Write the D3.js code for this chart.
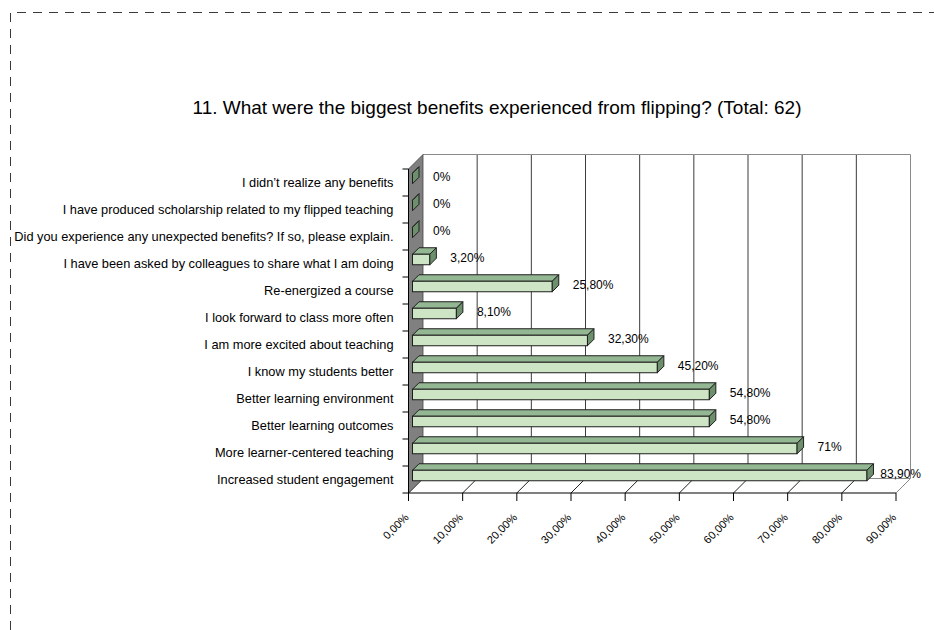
<!DOCTYPE html>
<html>
<head>
<meta charset="utf-8">
<script src="https://cdn.jsdelivr.net/npm/d3@7"></script>
<style>
  html, body { margin: 0; padding: 0; background: #fff; }
  svg { display: block; font-family: "Liberation Sans", Arial, sans-serif; }
</style>
</head>
<body>
<svg id="chart" width="934" height="630"></svg>
<script>
// Survey answers, listed top to bottom as they appear on the category axis
const categories = [
  "I didn\u2019t realize any benefits",
  "I have produced scholarship related to my flipped teaching",
  "Did you experience any unexpected benefits? If so, please explain.",
  "I have been asked by colleagues to share what I am doing",
  "Re-energized a course",
  "I look forward to class more often",
  "I am more excited about teaching",
  "I know my students better",
  "Better learning environment",
  "Better learning outcomes",
  "More learner-centered teaching",
  "Increased student engagement"
];
// Share of respondents (percent)
const values = [0, 0, 0, 3.2, 25.8, 8.1, 32.3, 45.2, 54.8, 54.8, 71, 83.9];
const xTicks = [0, 10, 20, 30, 40, 50, 60, 70, 80, 90];
const titleText = "11. What were the biggest benefits experienced from flipping? (Total: 62)";

(function () {
const svg = d3.select("#chart");
const W = 934, H = 630;

// Plot geometry (front plane) and 3-D depth offset
const x0 = 408.5, x1 = 896, yTop = 169, yBot = 493;
const depth = 14.5;           // full floor depth (dx = depth, dy = -depth)
const barFront = 4, barDepth = 6.5;

const x = d3.scaleLinear().domain([0, 90]).range([x0, x1]);
const y = d3.scaleBand().domain(categories).range([yTop, yBot]).padding(0);
const barH = 10.5;

const fmt = v => Number.isInteger(v) ? v + "%" : v.toFixed(2).replace(".", ",") + "%";

// Dashed frame
svg.append("path")
  .attr("d", `M10.5,${H} L10.5,12.5 L${W},12.5`)
  .attr("fill", "none").attr("stroke", "#3a3a3a").attr("stroke-width", 1)
  .attr("stroke-dasharray", "9,7");

// Title
svg.append("text")
  .attr("x", 497).attr("y", 114)
  .attr("text-anchor", "middle")
  .attr("font-size", 19).attr("fill", "#000")
  .text(titleText);

const g = svg.append("g");

// Back wall with gridlines
const bx = v => x(v) + depth;
const byTop = yTop - depth, byBot = yBot - depth;
g.append("rect")
  .attr("x", bx(0)).attr("y", byTop).attr("width", bx(90) - bx(0)).attr("height", byBot - byTop)
  .attr("fill", "#fff");
g.selectAll("line.grid").data(xTicks.slice(1)).join("line")
  .attr("class", "grid")
  .attr("x1", d => bx(d)).attr("x2", d => bx(d))
  .attr("y1", byTop).attr("y2", byBot)
  .attr("stroke", d => d === 90 ? "#8a8a8a" : "#3c3c3c").attr("stroke-width", 1);
g.append("line")
  .attr("x1", bx(0)).attr("x2", bx(90)).attr("y1", byTop).attr("y2", byTop)
  .attr("stroke", "#8a8a8a");
// back edge of the floor
g.append("line")
  .attr("x1", bx(0)).attr("x2", bx(90)).attr("y1", byBot).attr("y2", byBot)
  .attr("stroke", "#8a8a8a");

// Floor diagonals from each tick
g.selectAll("line.floor").data(xTicks).join("line")
  .attr("class", "floor")
  .attr("x1", d => x(d)).attr("y1", yBot)
  .attr("x2", d => bx(d)).attr("y2", byBot)
  .attr("stroke", d => d === 90 ? "#8a8a8a" : "#222");

// Side wall (left)
g.append("path")
  .attr("d", `M${x0},${yTop} L${bx(0)},${byTop} L${bx(0)},${byBot} L${x0},${yBot} Z`)
  .attr("fill", "#808080").attr("stroke", "#444").attr("stroke-width", 0.8);

// Category axis line and ticks
g.append("line").attr("x1", x0).attr("x2", x0).attr("y1", yTop).attr("y2", yBot)
  .attr("stroke", "#000");
const bounds = categories.map(c => y(c)).concat([yBot]);
g.selectAll("line.ctick").data(bounds).join("line")
  .attr("class", "ctick")
  .attr("x1", x0 - 6).attr("x2", x0).attr("y1", d => d).attr("y2", d => d)
  .attr("stroke", "#000");

// Value axis line and ticks
g.append("line").attr("x1", x0).attr("x2", x1).attr("y1", yBot).attr("y2", yBot)
  .attr("stroke", "#000");
g.selectAll("line.xtick").data(xTicks).join("line")
  .attr("class", "xtick")
  .attr("x1", d => x(d)).attr("x2", d => x(d)).attr("y1", yBot).attr("y2", yBot + 8)
  .attr("stroke", "#000");

// Tick labels, rotated
g.selectAll("text.xlab").data(xTicks).join("text")
  .attr("class", "xlab")
  .attr("transform", d => `translate(${x(d) + 1},${yBot + 25}) rotate(-45)`)
  .attr("text-anchor", "end")
  .attr("font-size", 11).attr("fill", "#000")
  .text(d => d.toFixed(2).replace(".", ",") + "%");

// Category labels
g.selectAll("text.clab").data(categories).join("text")
  .attr("class", "clab")
  .attr("x", x0 - 15).attr("y", d => y(d) + y.bandwidth() / 2)
  .attr("dy", "0.35em")
  .attr("text-anchor", "end")
  .attr("font-size", 12.8).attr("fill", "#000")
  .text(d => d);

// 3-D bars
const frontFill = "#cde5c5", topFill = "#94b793", endFill = "#6d906c", edge = "#1e1e1e";
const bars = g.selectAll("g.bar").data(categories.map((c, i) => ({ c, v: values[i] })))
  .join("g").attr("class", "bar");
bars.each(function (d) {
  const gb = d3.select(this);
  const cy = y(d.c) + y.bandwidth() / 2;
  const fx0 = x(0) + barFront, fx1 = x(d.v) + barFront;
  const fy0 = cy - barFront - barH / 2, fy1 = fy0 + barH;
  const dd = barDepth;
  // top face
  gb.append("path")
    .attr("d", `M${fx0},${fy0} L${fx0 + dd},${fy0 - dd} L${fx1 + dd},${fy0 - dd} L${fx1},${fy0} Z`)
    .attr("fill", topFill).attr("stroke", edge).attr("stroke-width", 1).attr("stroke-linejoin", "round");
  // front face
  gb.append("rect")
    .attr("x", fx0).attr("y", fy0).attr("width", fx1 - fx0).attr("height", barH)
    .attr("fill", frontFill).attr("stroke", edge).attr("stroke-width", 1);
  // end face
  gb.append("path")
    .attr("d", `M${fx1},${fy0} L${fx1 + dd},${fy0 - dd} L${fx1 + dd},${fy1 - dd} L${fx1},${fy1} Z`)
    .attr("fill", endFill).attr("stroke", edge).attr("stroke-width", 1).attr("stroke-linejoin", "round");
});

// Value labels
const rightLimit = 921;
g.selectAll("text.vlab").data(categories.map((c, i) => ({ c, v: values[i] })))
  .join("text")
  .attr("class", "vlab")
  .attr("y", d => y(d.c) + y.bandwidth() / 2 - 6)
  .attr("dy", "0.35em")
  .attr("font-size", 12).attr("fill", "#000")
  .text(d => fmt(d.v))
  .attr("x", function (d) {
    const w = this.getComputedTextLength();
    return Math.min(x(d.v) + 24.5, rightLimit - w);
  });
})();
</script>
</body>
</html>
